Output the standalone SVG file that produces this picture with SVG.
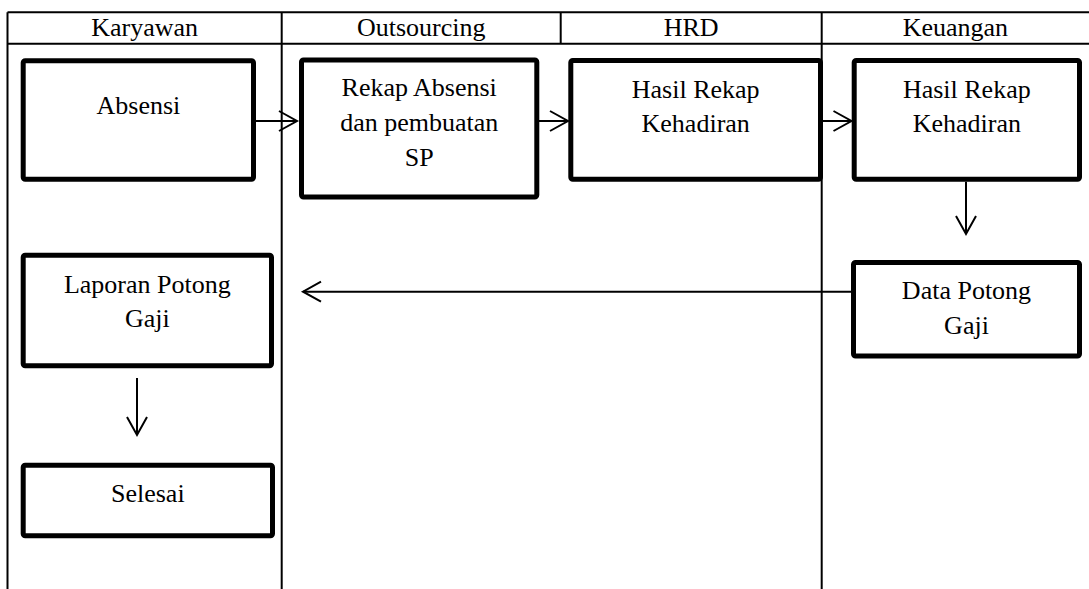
<svg xmlns="http://www.w3.org/2000/svg" width="1089" height="589" viewBox="0 0 1089 589">
<defs>
<marker id="arr" markerWidth="22" markerHeight="24" refX="19" refY="11" orient="auto" markerUnits="userSpaceOnUse" viewBox="0 0 22 24">
<path d="M1,1 L19,11 L1,21" fill="none" stroke="#000" stroke-width="2"/>
</marker>
</defs>
<style>
.grid{stroke:#000;stroke-width:2;fill:none}
.box{fill:#fff;stroke:#000;stroke-width:5;stroke-linejoin:round}
.t{font-family:'Liberation Serif',Tinos,'Times New Roman','DejaVu Serif',serif;font-size:26px;fill:#000;text-anchor:middle}
.c{stroke:#000;stroke-width:2;fill:none;marker-end:url(#arr)}
</style>
<rect width="1089" height="589" fill="#fff"/>
<g id="lanes">
<line class="grid" x1="7.5" y1="12.3" x2="1089" y2="12.3"/>
<line class="grid" x1="7.5" y1="43.7" x2="1089" y2="43.7"/>
<line class="grid" x1="7.5" y1="12.3" x2="7.5" y2="589"/>
<line class="grid" x1="281.7" y1="12.3" x2="281.7" y2="589"/>
<line class="grid" x1="560.7" y1="12.3" x2="560.7" y2="43.7"/>
<line class="grid" x1="821.7" y1="12.3" x2="821.7" y2="589"/>
<text class="t" font-family="Liberation Serif, serif" x="144.6" y="36">Karyawan</text>
<text class="t" font-family="Liberation Serif, serif" x="421.2" y="36">Outsourcing</text>
<text class="t" font-family="Liberation Serif, serif" x="691.2" y="36">HRD</text>
<text class="t" font-family="Liberation Serif, serif" x="955.4" y="36">Keuangan</text>
</g>
<g id="connectors">
<line class="c" x1="256" y1="121" x2="297" y2="121"/>
<line class="c" x1="539" y1="121" x2="568" y2="121"/>
<line class="c" x1="823" y1="121" x2="851.5" y2="121"/>
<line class="c" x1="966" y1="181.7" x2="966" y2="234"/>
<line class="c" x1="851" y1="291.7" x2="303" y2="291.7"/>
<line class="c" x1="137" y1="378" x2="137" y2="435"/>
</g>
<g id="absensi">
<rect class="box" x="23.2" y="60.8" width="230.3" height="118.4" rx="2"/>
<text class="t" x="138.4" y="114">Absensi</text>
</g>
<g id="rekap">
<rect class="box" x="301.5" y="60" width="235.3" height="137" rx="2"/>
<text class="t" x="419.2" y="96">Rekap Absensi</text>
<text class="t" x="419.2" y="131">dan pembuatan</text>
<text class="t" x="419.2" y="166">SP</text>
</g>
<g id="hrd-hasil">
<rect class="box" x="570.8" y="60.5" width="249.7" height="118.7" rx="2"/>
<text class="t" x="695.7" y="98">Hasil Rekap</text>
<text class="t" x="695.7" y="132">Kehadiran</text>
</g>
<g id="keuangan-hasil">
<rect class="box" x="854.2" y="60.5" width="225.3" height="118.7" rx="2"/>
<text class="t" x="966.8" y="98">Hasil Rekap</text>
<text class="t" x="966.8" y="132">Kehadiran</text>
</g>
<g id="data-potong">
<rect class="box" x="853.5" y="262.5" width="226" height="93.5" rx="2"/>
<text class="t" x="966.5" y="299">Data Potong</text>
<text class="t" x="966.5" y="334">Gaji</text>
</g>
<g id="laporan">
<rect class="box" x="23.2" y="255.2" width="248.3" height="110.6" rx="2"/>
<text class="t" x="147.3" y="293">Laporan Potong</text>
<text class="t" x="147.3" y="327">Gaji</text>
</g>
<g id="selesai">
<rect class="box" x="23.2" y="465.2" width="249.3" height="70.6" rx="2"/>
<text class="t" x="147.8" y="502">Selesai</text>
</g>
</svg>
